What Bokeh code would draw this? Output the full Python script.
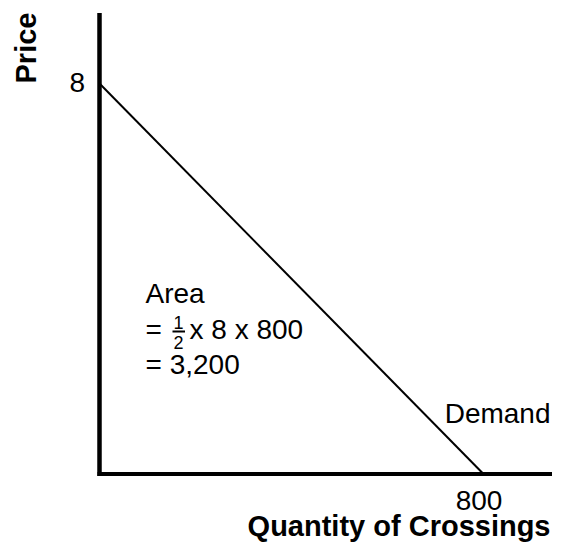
import math
from bokeh.plotting import figure
from bokeh.models import Range1d, Label
from bokeh.embed import file_html
from bokeh.resources import INLINE

# ---- data ----
quantity = [0, 800]          # demand curve: quantity of crossings
price = [8, 0]               # demand curve: price
y_tick_values = [8]
y_tick_labels = ["8"]
x_tick_values = [800]
x_tick_labels = ["800"]
x_label = "Quantity of Crossings"
y_label = "Price"
curve_label = "Demand"
area_lines = ["Area", "= ", "x 8 x 800", "= 3,200"]
frac_num, frac_den = "1", "2"

# ---- geometry (picture pixels -> data) ----
W, H = 552, 543
ORIGIN_X, ORIGIN_Y = 99.0, 473.5     # pixel of (0,0)
SX = 384.0 / 800.0                    # px per quantity unit
SY = 390.5 / 8.0                      # px per price unit
BASE_K = 0.34                         # renderer baseline offset (em)

x_start = (0 - ORIGIN_X) / SX
x_end = (W - ORIGIN_X) / SX
y_end = (ORIGIN_Y - 0) / SY
y_start = (ORIGIN_Y - H) / SY


def dx(px):
    return (px - ORIGIN_X) / SX


def dy(py):
    return (ORIGIN_Y - py) / SY


p = figure(width=W, height=H, output_backend="svg", toolbar_location=None,
           x_axis_location=None, y_axis_location=None,
           x_range=Range1d(x_start, x_end), y_range=Range1d(y_start, y_end),
           min_border=0, min_border_left=0, min_border_right=0,
           min_border_top=0, min_border_bottom=0)
p.grid.visible = False
p.outline_line_color = None
p.background_fill_color = "white"
p.border_fill_color = "white"

# axes drawn as thick lines
p.segment(x0=[0], y0=[dy(475.5)], x1=[0], y1=[dy(12.5)],
          line_color="black", line_width=4.5, line_cap="butt")
p.segment(x0=[dx(97)], y0=[0], x1=[x_end], y1=[0],
          line_color="black", line_width=4, line_cap="butt")

# demand curve
p.line(quantity, price, line_color="black", line_width=2)

FONT = "Liberation Sans"


def lab(text, px, py, size=28, align="left", style="normal"):
    """Place text with its alphabetic baseline at picture pixel (px, py)."""
    p.add_layout(Label(x=dx(px), y=dy(py - BASE_K * size), text=text,
                       text_font=FONT, text_font_size=f"{size}px",
                       text_align=align, text_baseline="alphabetic",
                       text_font_style=style, text_color="black"))


# tick labels
lab(y_tick_labels[0], 84.5, 92, align="right")
lab(x_tick_labels[0], ORIGIN_X + (x_tick_values[0]) * SX - 4.5, 510, align="center")

# axis titles
p.add_layout(Label(x=dx(35 - BASE_K * 29), y=dy(83), text=y_label,
                   text_font=FONT, text_font_size="29px", text_align="left",
                   text_baseline="alphabetic", text_font_style="bold",
                   text_color="black", angle=math.pi / 2))
lab(x_label, 550, 535, size=29, style="bold", align="right")

# curve label
lab(curve_label, 550, 423, align="right")

# area annotation
lab(area_lines[0], 145, 303)
lab(area_lines[1], 145, 339)
lab(frac_num, 178, 328, size=18, align="center")
p.segment(x0=[dx(172)], y0=[dy(331)], x1=[dx(184.5)], y1=[dy(331)],
          line_color="black", line_width=1.8)
lab(frac_den, 178, 348, size=18, align="center")
lab(area_lines[2], 189, 339)
lab(area_lines[3], 145, 374)

open("out.html", "w").write(file_html(p, INLINE))
